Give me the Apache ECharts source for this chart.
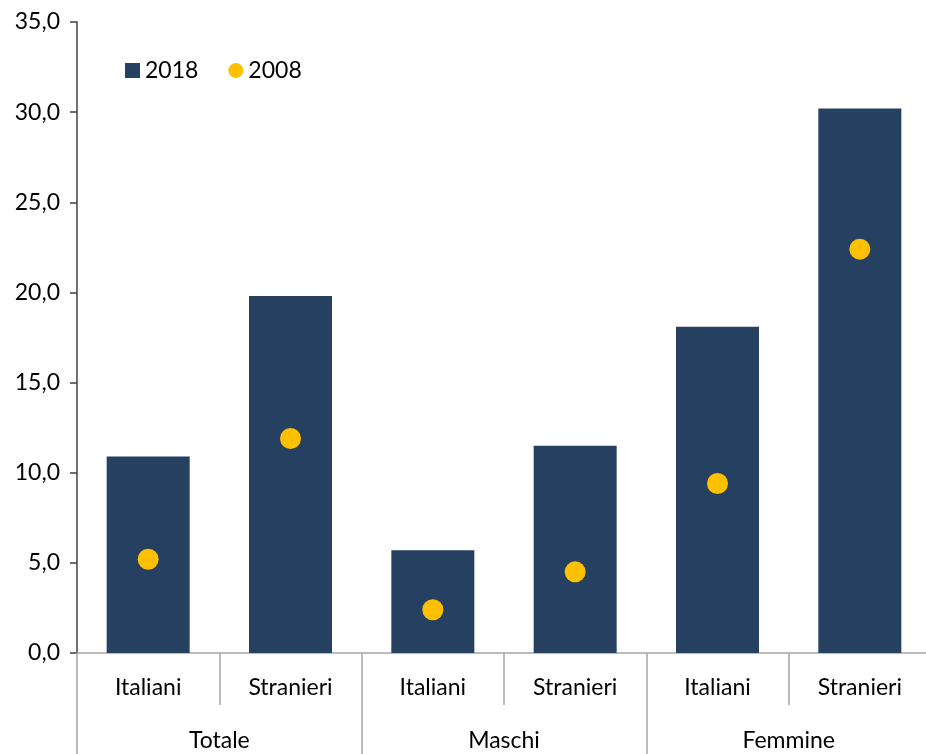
<!DOCTYPE html>
<html>
<head>
<meta charset="utf-8">
<script src="https://cdn.jsdelivr.net/npm/echarts@6/dist/echarts.min.js"></script>
<style>
  html, body { margin: 0; padding: 0; background: #fff; }
  #main { width: 926px; height: 754px; }
</style>
</head>
<body>
<div id="main"></div>
<script>
// categorie
var categories = ['Italiani', 'Stranieri', 'Italiani', 'Stranieri', 'Italiani', 'Stranieri'];
var groups = ['Totale', 'Maschi', 'Femmine'];
// valori
var values2018 = [10.9, 19.8, 5.7, 11.5, 18.1, 30.2];
var values2008 = [5.2, 11.9, 2.4, 4.5, 9.4, 22.4];

var FONT = 'Lato';
var chart = echarts.init(document.getElementById('main'));

function fmt(v) {
  return v.toFixed(1).replace('.', ',');
}

chart.setOption({
  animation: false,
  textStyle: { fontFamily: FONT },
  grid: { left: 77, width: 854, top: 22, bottom: 101, outerBoundsMode: 'none', containLabel: false },
  legend: {
    left: 120,
    top: 54,
    itemWidth: 15,
    itemHeight: 15,
    itemGap: 30,
    textStyle: { fontFamily: FONT, fontSize: 23, color: '#000' },
    data: [
      { name: '2018', icon: 'rect' },
      { name: '2008', icon: 'circle' }
    ]
  },
  xAxis: [
    {
      type: 'category',
      data: categories,
      position: 'bottom',
      axisLine: { show: true, lineStyle: { color: '#a6a6a6', width: 1.5 } },
      axisTick: { show: true, length: 52, lineStyle: { color: '#a6a6a6', width: 1.5 } },
      axisLabel: { fontFamily: FONT, fontSize: 23, color: '#000', margin: 23 }
    },
    {
      type: 'category',
      data: groups,
      position: 'bottom',
      offset: 52,
      axisLine: { show: false },
      axisTick: { show: true, length: 52, lineStyle: { color: '#a6a6a6', width: 1.5 } },
      axisLabel: { fontFamily: FONT, fontSize: 23, color: '#000', margin: 24 }
    }
  ],
  yAxis: {
    type: 'value',
    min: 0,
    max: 35,
    interval: 5,
    splitLine: { show: false },
    axisLine: { show: true, lineStyle: { color: '#404040', width: 1.5 } },
    axisTick: { show: true, length: 7, lineStyle: { color: '#404040', width: 1.5 } },
    axisLabel: { fontFamily: FONT, fontSize: 23, color: '#000', margin: 17, formatter: fmt }
  },
  series: [
    {
      name: '2018',
      type: 'bar',
      data: values2018,
      barWidth: 83,
      itemStyle: { color: '#264061' }
    },
    {
      name: '2008',
      type: 'scatter',
      data: values2008,
      symbol: 'circle',
      symbolSize: 21,
      itemStyle: { color: '#FFC000', opacity: 1 }
    }
  ]
});
</script>
</body>
</html>
